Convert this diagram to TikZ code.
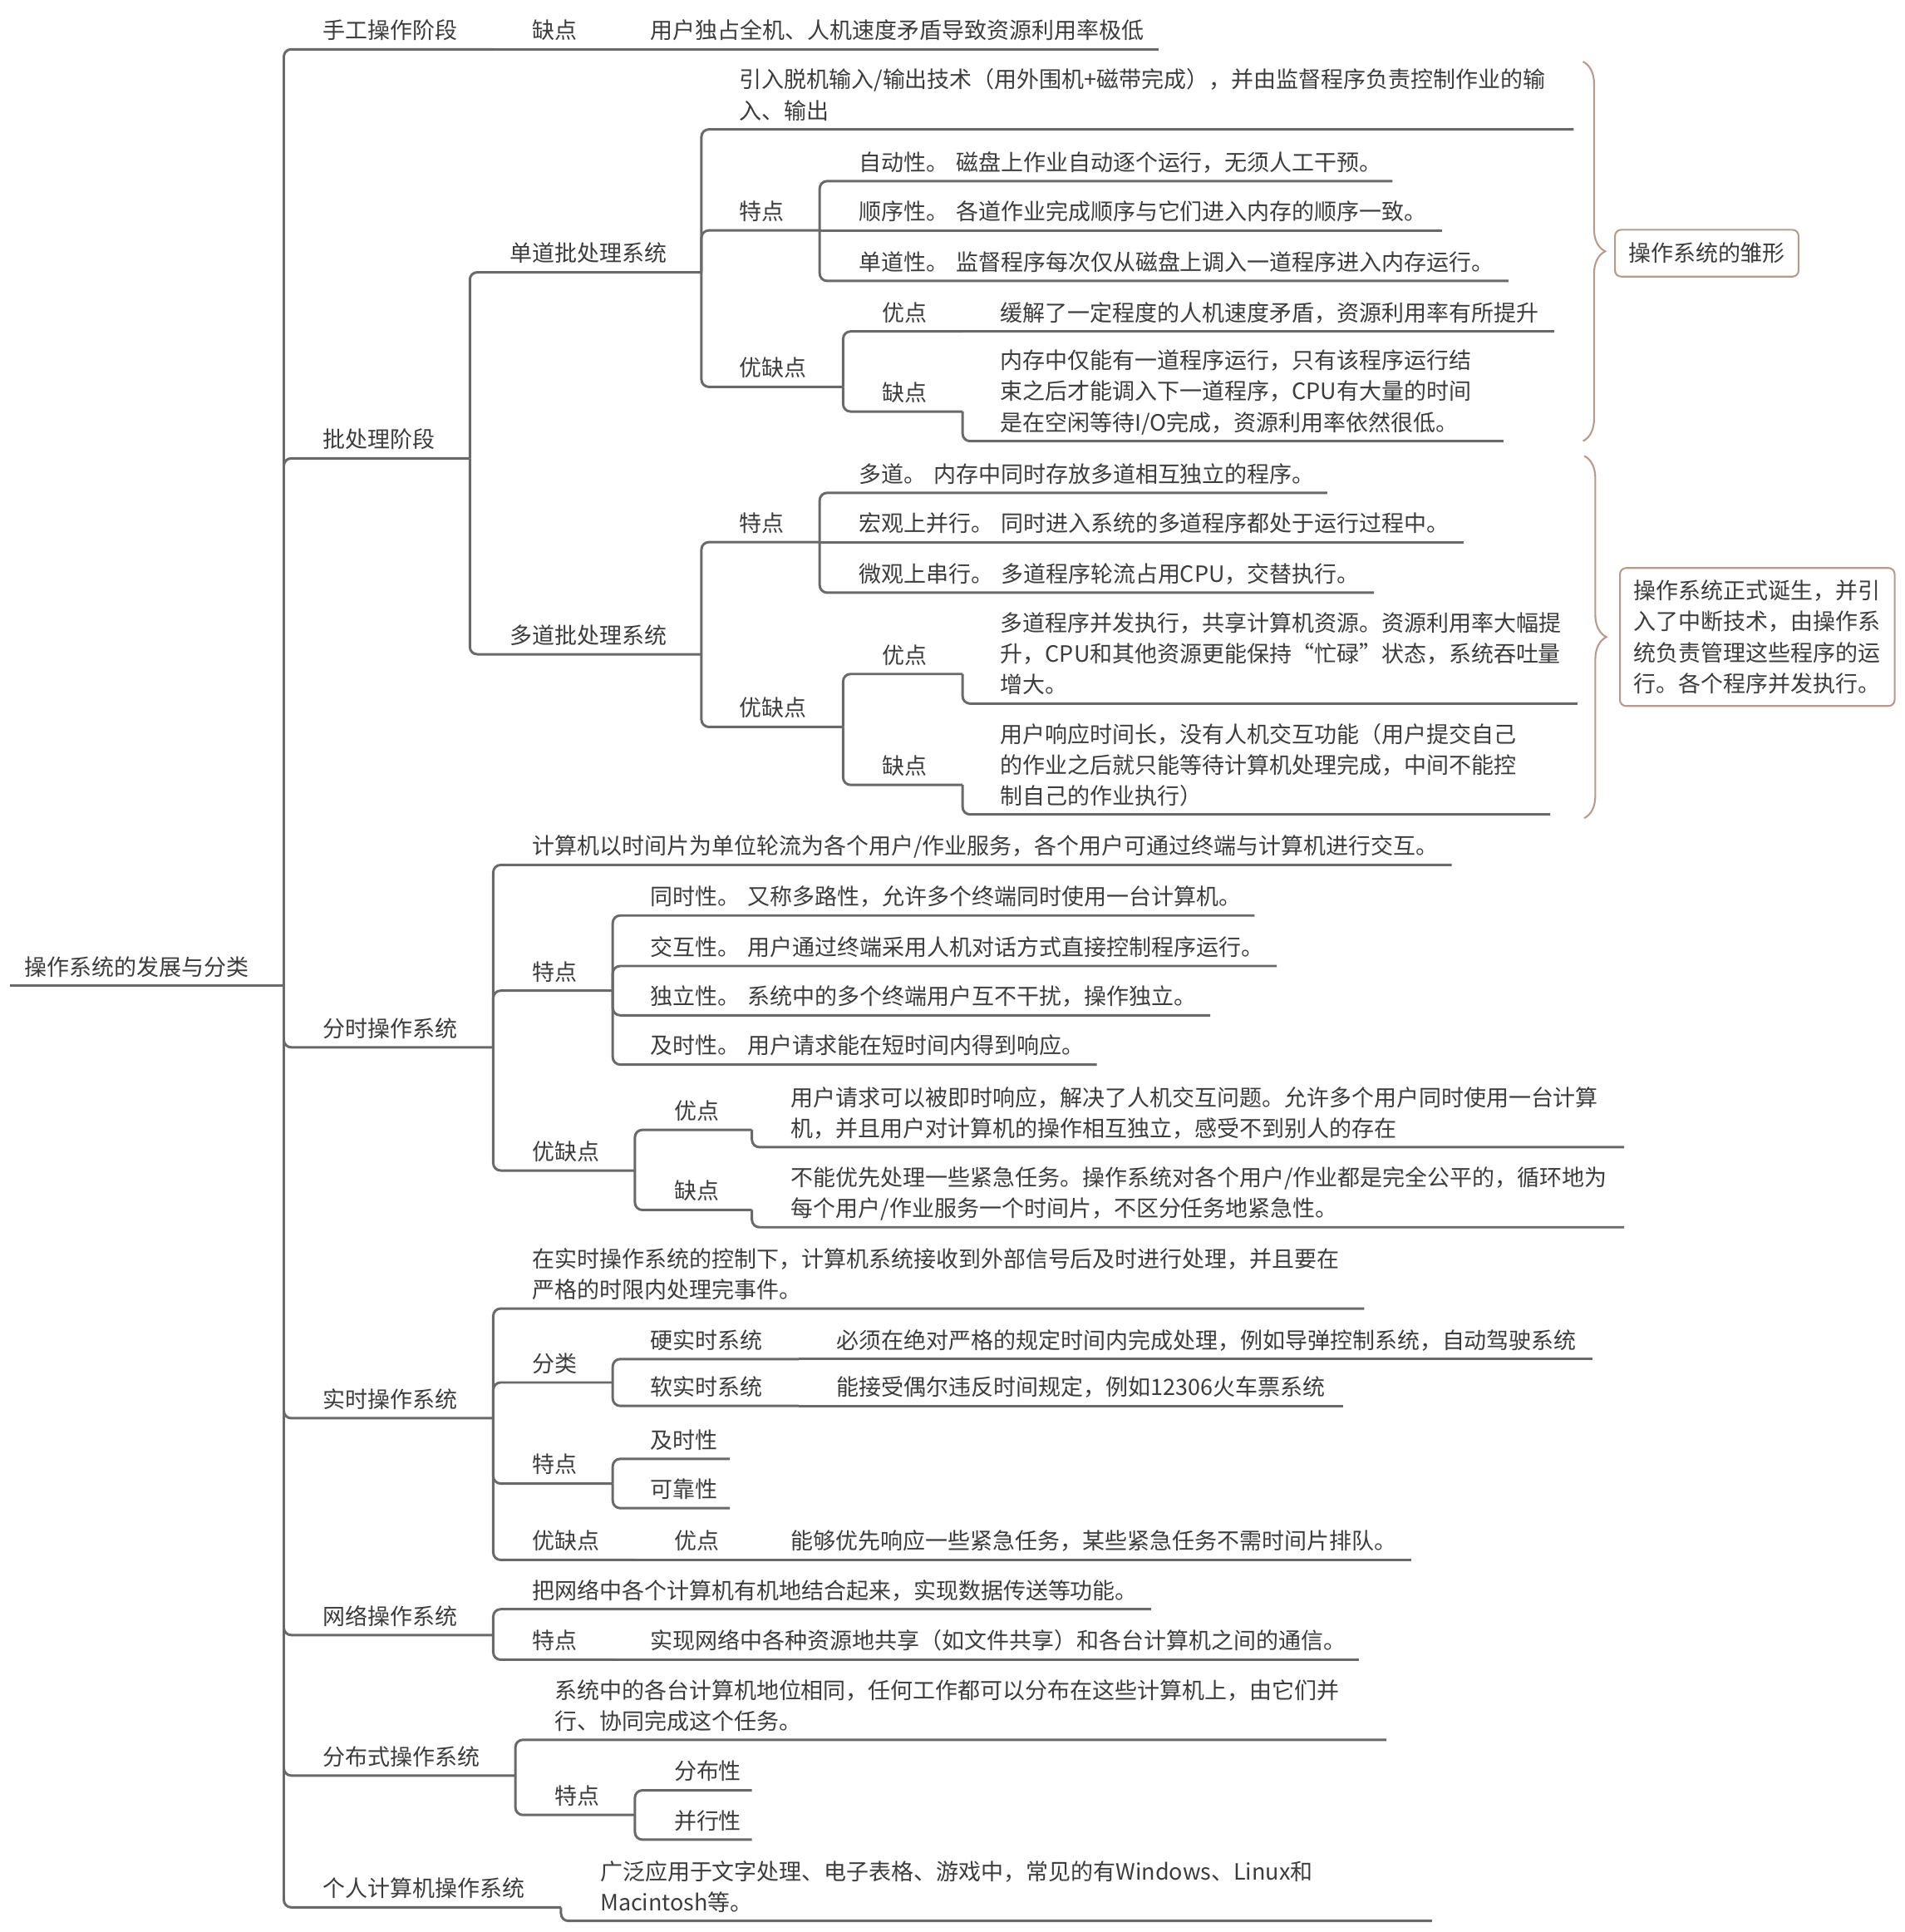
\documentclass[tikz,border=0pt]{standalone}
\usepackage{fontspec}
\setmainfont{Noto Sans CJK SC}
\usetikzlibrary{decorations.pathreplacing}
\definecolor{linegray}{HTML}{696969}
\definecolor{inkgray}{HTML}{3C3C3C}
\definecolor{summarybrown}{HTML}{B8998A}
\newcommand{\topicfont}{\fontsize{18.2pt}{25pt}\selectfont}

\begin{document}
\begin{tikzpicture}[x=1pt,y=-1pt,topic/.style={anchor=south west,inner xsep=0pt,inner ysep=0pt,text width=#1pt,align=left,font=\topicfont,text=inkgray,execute at end node={\rule[-8.3pt]{0pt}{10pt}}},link/.style={draw=linegray,line width=2pt,rounded corners=6pt},summary/.style={draw=summarybrown,line width=1.4pt,rounded corners=5pt,align=left,font=\topicfont,text=inkgray,inner sep=0pt},brace/.style={draw=summarybrown,line width=1.4pt,decorate,decoration={brace,amplitude=18pt}}]
\useasboundingbox (0,0) rectangle (1546,1568);
\node[topic=210] (root) at (20,800) {操作系统的发展与分类};
\node[topic=138] (s1) at (262,40) {手工操作阶段};
\node[topic=65] (s1a) at (432,40) {缺点};
\node[topic=412] (s1b) at (528,40) {用户独占全机、人机速度矛盾导致资源利用率极低};
\node[topic=119] (s2) at (262,372) {批处理阶段};
\node[topic=155] (s21) at (414,221) {单道批处理系统};
\node[topic=677] (s211) at (600,105) {引入脱机输入/输出技术（用外围机+磁带完成），并由监督程序负责控制作业的输\\入、输出};
\node[topic=65] (s212) at (600,187) {特点};
\node[topic=433] (s2121) at (697,147) {自动性。~磁盘上作业自动逐个运行，无须人工干预。};
\node[topic=473] (s2122) at (697,187) {顺序性。~各道作业完成顺序与它们进入内存的顺序一致。};
\node[topic=527] (s2123) at (697,228) {单道性。~监督程序每次仅从磁盘上调入一道程序进入内存运行。};
\node[topic=84] (s213) at (600,314) {优缺点};
\node[topic=65] (s2131) at (716,269) {优点};
\node[topic=449] (s2131a) at (812,269) {缓解了一定程度的人机速度矛盾，资源利用率有所提升};
\node[topic=65] (s2132) at (716,334) {缺点};
\node[topic=408] (s2132a) at (812,358) {内存中仅能有一道程序运行，只有该程序运行结\\束之后才能调入下一道程序，CPU有大量的时间\\是在空闲等待I/O完成，资源利用率依然很低。};
\node[topic=155] (s22) at (414,531) {多道批处理系统};
\node[topic=65] (s221) at (600,440) {特点};
\node[topic=380] (s2211) at (697,400) {多道。~内存中同时存放多道相互独立的程序。};
\node[topic=491] (s2212) at (697,440) {宏观上并行。~同时进入系统的多道程序都处于运行过程中。};
\node[topic=418] (s2213) at (697,481) {微观上串行。~多道程序轮流占用CPU，交替执行。};
\node[topic=84] (s222) at (600,590) {优缺点};
\node[topic=65] (s2221) at (716,547) {优点};
\node[topic=468] (s2221a) at (812,571) {多道程序并发执行，共享计算机资源。资源利用率大幅提\\升，CPU和其他资源更能保持“忙碌”状态，系统吞吐量\\增大。};
\node[topic=65] (s2222) at (716,637) {缺点};
\node[topic=446] (s2222a) at (812,661) {用户响应时间长，没有人机交互功能（用户提交自己\\的作业之后就只能等待计算机处理完成，中间不能控\\制自己的作业执行）};
\node[topic=138] (s3) at (262,850) {分时操作系统};
\node[topic=746] (s31) at (432,702) {计算机以时间片为单位轮流为各个用户/作业服务，各个用户可通过终端与计算机进行交互。};
\node[topic=65] (s32) at (432,804) {特点};
\node[topic=490] (s321) at (528,743) {同时性。~又称多路性，允许多个终端同时使用一台计算机。};
\node[topic=508] (s322) at (528,784) {交互性。~用户通过终端采用人机对话方式直接控制程序运行。};
\node[topic=454] (s323) at (528,824) {独立性。~系统中的多个终端用户互不干扰，操作独立。};
\node[topic=362] (s324) at (528,864) {及时性。~用户请求能在短时间内得到响应。};
\node[topic=83] (s33) at (432,950) {优缺点};
\node[topic=63] (s331) at (547,917) {优点};
\node[topic=676] (s331a) at (642,931) {用户请求可以被即时响应，解决了人机交互问题。允许多个用户同时使用一台计算\\机，并且用户对计算机的操作相互独立，感受不到别人的存在};
\node[topic=63] (s332) at (547,982) {缺点};
\node[topic=676] (s332a) at (642,996) {不能优先处理一些紧急任务。操作系统对各个用户/作业都是完全公平的，循环地为\\每个用户/作业服务一个时间片，不区分任务地紧急性。};
\node[topic=138] (s4) at (262,1151) {实时操作系统};
\node[topic=675] (s41) at (432,1062) {在实时操作系统的控制下，计算机系统接收到外部信号后及时进行处理，并且要在\\严格的时限内处理完事件。};
\node[topic=65] (s42) at (432,1122) {分类};
\node[topic=120] (s421) at (528,1103) {硬实时系统};
\node[topic=613] (s421a) at (679,1103) {必须在绝对严格的规定时间内完成处理，例如导弹控制系统，自动驾驶系统};
\node[topic=120] (s422) at (528,1141) {软实时系统};
\node[topic=411] (s422a) at (679,1141) {能接受偶尔违反时间规定，例如12306火车票系统};
\node[topic=65] (s43) at (432,1204) {特点};
\node[topic=64] (s431) at (528,1184) {及时性};
\node[topic=64] (s432) at (528,1224) {可靠性};
\node[topic=83] (s44) at (432,1266) {优缺点};
\node[topic=63] (s441) at (547,1266) {优点};
\node[topic=503] (s441a) at (642,1266) {能够优先响应一些紧急任务，某些紧急任务不需时间片排队。};
\node[topic=138] (s5) at (262,1327) {网络操作系统};
\node[topic=502] (s51) at (432,1306) {把网络中各个计算机有机地结合起来，实现数据传送等功能。};
\node[topic=65] (s52) at (432,1347) {特点};
\node[topic=575] (s52a) at (528,1347) {实现网络中各种资源地共享（如文件共享）和各台计算机之间的通信。};
\node[topic=156] (s6) at (262,1441) {分布式操作系统};
\node[topic=675] (s61) at (450,1412) {系统中的各台计算机地位相同，任何工作都可以分布在这些计算机上，由它们并\\行、协同完成这个任务。};
\node[topic=65] (s62) at (450,1473) {特点};
\node[topic=63] (s621) at (547,1453) {分布性};
\node[topic=63] (s622) at (547,1493) {并行性};
\node[topic=193] (s7) at (262,1548) {个人计算机操作系统};
\node[topic=675] (s71) at (487,1559) {广泛应用于文字处理、电子表格、游戏中，常见的有Windows、Linux和\\Macintosh等。};
\draw[link] ([xshift=-12pt]root.south west) -- (root.south east);
\draw[link] (root.south east) |- (s1.south east);
\draw[link] (root.south east) |- (s2.south east);
\draw[link] (root.south east) |- (s3.south east);
\draw[link] (root.south east) |- (s4.south east);
\draw[link] (root.south east) |- (s5.south east);
\draw[link] (root.south east) |- (s6.south east);
\draw[link] (root.south east) |- (s7.south east);
\draw[link] (s1.south east) -- (s1a.south east);
\draw[link] (s1a.south east) -- (s1b.south east);
\draw[link] (s2.south east) |- (s21.south east);
\draw[link] (s2.south east) |- (s22.south east);
\draw[link] (s21.south east) |- (s211.south east);
\draw[link] (s21.south east) |- (s212.south east);
\draw[link] (s21.south east) |- (s213.south east);
\draw[link] (s212.south east) |- (s2121.south east);
\draw[link] (s212.south east) -- (s2122.south east);
\draw[link] (s212.south east) |- (s2123.south east);
\draw[link] (s213.south east) |- (s2131.south east);
\draw[link] (s213.south east) |- (s2132.south east);
\draw[link] (s2131.south east) -- (s2131a.south east);
\draw[link] (s2132.south east) |- (s2132a.south east);
\draw[link] (s22.south east) |- (s221.south east);
\draw[link] (s22.south east) |- (s222.south east);
\draw[link] (s221.south east) |- (s2211.south east);
\draw[link] (s221.south east) -- (s2212.south east);
\draw[link] (s221.south east) |- (s2213.south east);
\draw[link] (s222.south east) |- (s2221.south east);
\draw[link] (s222.south east) |- (s2222.south east);
\draw[link] (s2221.south east) |- (s2221a.south east);
\draw[link] (s2222.south east) |- (s2222a.south east);
\draw[link] (s3.south east) |- (s31.south east);
\draw[link] (s3.south east) |- (s32.south east);
\draw[link] (s3.south east) |- (s33.south east);
\draw[link] (s32.south east) |- (s321.south east);
\draw[link] (s32.south east) |- (s322.south east);
\draw[link] (s32.south east) |- (s323.south east);
\draw[link] (s32.south east) |- (s324.south east);
\draw[link] (s33.south east) |- (s331.south east);
\draw[link] (s33.south east) |- (s332.south east);
\draw[link] (s331.south east) |- (s331a.south east);
\draw[link] (s332.south east) |- (s332a.south east);
\draw[link] (s4.south east) |- (s41.south east);
\draw[link] (s4.south east) |- (s42.south east);
\draw[link] (s4.south east) |- (s43.south east);
\draw[link] (s4.south east) |- (s44.south east);
\draw[link] (s42.south east) |- (s421.south east);
\draw[link] (s42.south east) |- (s422.south east);
\draw[link] (s421.south east) -- (s421a.south east);
\draw[link] (s422.south east) -- (s422a.south east);
\draw[link] (s43.south east) |- (s431.south east);
\draw[link] (s43.south east) |- (s432.south east);
\draw[link] (s44.south east) -- (s441.south east);
\draw[link] (s441.south east) -- (s441a.south east);
\draw[link] (s5.south east) |- (s51.south east);
\draw[link] (s5.south east) |- (s52.south east);
\draw[link] (s52.south east) -- (s52a.south east);
\draw[link] (s6.south east) |- (s61.south east);
\draw[link] (s6.south east) |- (s62.south east);
\draw[link] (s62.south east) |- (s621.south east);
\draw[link] (s62.south east) |- (s622.south east);
\draw[link] (s7.south east) |- (s71.south east);
\coordinate (b1t) at (1285,50);
\coordinate (b1b) at (1285,358);
\coordinate (b2t) at (1286,370);
\coordinate (b2b) at (1286,664);
\draw[brace] (b1t) -- (b1b);
\draw[brace] (b2t) -- (b2b);
\node[summary,minimum width=149pt,minimum height=38pt] (sm1) at (1385.5,205.5) {操作系统的雏形};
\node[summary,minimum width=223pt,minimum height=112pt] (sm2) at (1426.5,517) {操作系统正式诞生，并引\\入了中断技术，由操作系\\统负责管理这些程序的运\\行。各个程序并发执行。};
\end{tikzpicture}
\end{document}
